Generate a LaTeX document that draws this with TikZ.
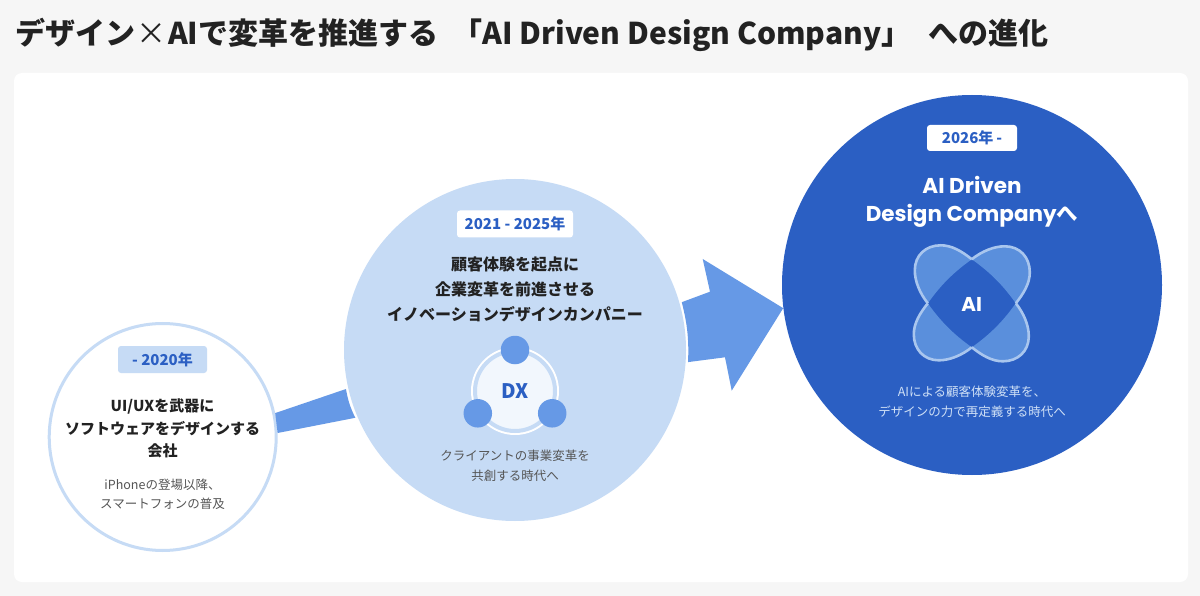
\documentclass[tikz,border=0pt]{standalone}
\usepackage{fontspec}
\setmainfont{Noto Sans CJK JP}
\newfontfamily\latinfont{Poppins}
\usetikzlibrary{positioning}
\definecolor{pagegray}{HTML}{F6F6F6}
\definecolor{paleblue}{HTML}{C6DBF5}
\definecolor{midblue}{HTML}{6699E6}
\definecolor{deepblue}{HTML}{2B5FC3}
\definecolor{petalblue}{HTML}{5A8FDC}
\definecolor{rimblue}{HTML}{A9C6EE}
\definecolor{coreblue}{HTML}{F2F7FD}
\definecolor{subgray}{HTML}{555555}
\definecolor{inkblack}{HTML}{222222}
\definecolor{subwhite}{HTML}{CFE0F6}
\tikzset{
  era/.style={circle, inner sep=0pt},
  yeartag/.style={rounded corners=3pt, inner sep=0pt, minimum height=27pt, text=deepblue,
    font=\bfseries\fontsize{15}{18}\selectfont},
  headtext/.style={align=center, text=inkblack, inner sep=0pt, font=\bfseries\fontsize{16}{25}\selectfont},
  subtext/.style={align=center, text=subgray, inner sep=0pt, font=\fontsize{12.5}{20}\selectfont},
  blockarrow/.style={fill=midblue},
  dot/.style={circle, fill=midblue, inner sep=0pt, minimum size=28.5pt},
}
\begin{document}
\begin{tikzpicture}[x=1pt, y=-1pt]
  \useasboundingbox (0,0) rectangle (1200,596);
  \fill[pagegray] (0,0) rectangle (1200,596);
  \fill[white, rounded corners=8pt] (14,73) rectangle (1188,582);
  \node[anchor=west, inner sep=0pt, text=inkblack, font=\bfseries\fontsize{30}{36}\selectfont] (title) at (15,34.5)
    {デザイン\hspace{1.5pt}{\mdseries ×}\hspace{1.5pt}AIで変革を推進する\hspace{14pt}「AI Driven Design Company」\hspace{17pt}への進化};

  \node[era, draw=paleblue, line width=3pt, fill=white, minimum size=227pt] (past) at (162.7,437) {};
  \node[era, fill=paleblue, minimum size=342pt, outer sep=2.5pt] (mid) at (515,350) {};
  \node[era, fill=deepblue, minimum size=380pt] (now) at (972,285) {};

  \fill[blockarrow] (past.12.6) -- (mid.193.9) to[bend right=8] (mid.203.5) -- (past.2.5) -- cycle;
  \fill[blockarrow] (mid.16.8) -- (710,291.7) -- (702.7,259) -- (now.187.7) -- (731.7,390.7)
    -- (725,357.3) -- (mid.-4.7) to[bend right=8] cycle;

  \node[yeartag, fill=paleblue, minimum width=89pt] (pasttag) at (162.5,359.5) {- 2020年};
  \node[headtext, font=\bfseries\fontsize{15}{22.5}\selectfont, below=25.5pt of pasttag] (pasthead)
    {UI/UXを武器に\\ソフトウェアをデザインする\\会社};
  \node[subtext, font=\fontsize{12.5}{19}\selectfont, below=20.5pt of pasthead] (pastsub)
    {iPhoneの登場以降、\\スマートフォンの普及};

  \node[yeartag, fill=white, minimum width=116pt] (midtag) at (515,224) {2021 - 2025年};
  \node[headtext, below=18.5pt of midtag] (midhead)
    {顧客体験を起点に\\企業変革を前進させる\\イノベーションデザインカンパニー};

  \node[circle, fill=white, inner sep=0pt, minimum size=88pt] (dxring) at (515,391) {};
  \node[circle, fill=coreblue, draw=paleblue, line width=4pt, inner sep=0pt, minimum size=80pt,
    text=deepblue, font=\bfseries\fontsize{20}{24}\selectfont] (dx) at (515,391) {DX};
  \node[dot] (dota) at (515,350) {};
  \node[dot] (dotb) at (477.8,413.3) {};
  \node[dot] (dotc) at (552.2,413.3) {};

  \node[subtext, below=15pt of dxring] (midsub) {クライアントの事業変革を\\共創する時代へ};

  \node[yeartag, fill=white, minimum width=90pt, minimum height=26pt] (nowtag) at (972,138) {2026年\hspace{3pt}-};
  \node[align=center, inner sep=0pt, text=white, font=\bfseries\fontsize{21.5}{28}\selectfont,
    below=25pt of nowtag] (nowhead)
    {{\latinfont AI Driven}\\{\latinfont Design Company}へ};

  \begin{scope}[shift={(971.8,303.3)}]
    \foreach \ang in {0,90,180,270} {
      \fill[petalblue, rotate=\ang] (0,-44) .. controls (10,-52) and (22,-57) .. (33,-57)
        .. controls (48,-57) and (58,-46) .. (58,-31) .. controls (58,-20) and (52,-10) .. (44,0)
        .. controls (31,-18.3) and (18.3,-31) .. (0,-44) -- cycle;
      \draw[rimblue, line width=2.6pt, rotate=\ang] (0,-44) .. controls (10,-52) and (22,-57) .. (33,-57)
        .. controls (48,-57) and (58,-46) .. (58,-31) .. controls (58,-20) and (52,-10) .. (44,0);
    }
  \end{scope}
  \node[text=white, inner sep=0pt, font=\bfseries\fontsize{20}{24}\selectfont] (ai) at (971.8,304) {\latinfont AI};

  \node[subtext, text=subwhite, anchor=north, inner sep=0pt] (nowsub) at (972,386) {AIによる顧客体験変革を、\\デザインの力で再定義する時代へ};
\end{tikzpicture}
\end{document}
